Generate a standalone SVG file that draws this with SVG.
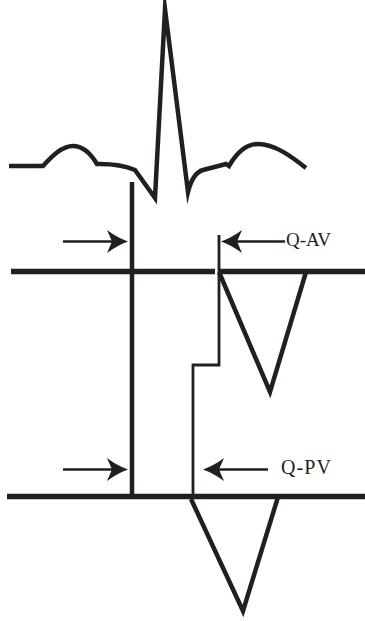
<svg xmlns="http://www.w3.org/2000/svg" width="365" height="621" viewBox="0 0 365 621">
<style>
.thick{fill:none;stroke:#231f20;stroke-width:4.5;stroke-linejoin:miter;stroke-miterlimit:20}
.base{fill:none;stroke:#231f20;stroke-width:5.5}
.thin{fill:none;stroke:#231f20;stroke-width:2.8;stroke-linejoin:miter}
.arrow{fill:none;stroke:#231f20;stroke-width:2.5}
.lbl{font-family:"Liberation Serif","Times New Roman",serif;fill:#231f20}
</style>
<defs>
<marker id="ah" markerUnits="userSpaceOnUse" markerWidth="24" markerHeight="26" viewBox="0 0 24 26" refX="17" refY="12" orient="auto">
<path d="M0,0.5 Q10,8 21,12 Q10,16 0,23.5 L5,12 Z" fill="#231f20"/>
</marker>
</defs>
<rect width="365" height="621" fill="#fff"/>
<g id="ecg">
<path class="thick" d="M9,166 L43,166 C52,156 62,146 73,146 C84,146 91,154 97,164 L100,164 C115,164 128,167 135,170 L155,198 L165,9 L188,192 C191,180 196,172 203,170 L226,164 L229,166 C236,154 246,144 258,144 C275,144 292,157 306,168"/>
</g>
<g id="aortic-baseline">
<line class="base" x1="11" y1="271.5" x2="215" y2="271.5"/>
<line class="base" x1="218" y1="271.5" x2="365" y2="271.5"/>
</g>
<g id="aortic-flow">
<path class="thick" d="M219,272 L270,392 L306,272"/>
</g>
<g id="pulmonary-baseline">
<line class="base" x1="7" y1="496.5" x2="365" y2="496.5"/>
</g>
<g id="pulmonary-flow">
<path class="thick" d="M191,499 L243,611 L278,497"/>
</g>
<g id="q-onset">
<line class="thick" x1="132" y1="182" x2="132" y2="496"/>
</g>
<g id="flow-onset">
<path class="thin" d="M219,235 L219,365 L193,365 L193,496"/>
</g>
<g id="connectors">
<line class="arrow" x1="63" y1="241.5" x2="124" y2="241.5" marker-end="url(#ah)"/>
<line class="arrow" x1="285" y1="241.5" x2="225" y2="241.5" marker-end="url(#ah)"/>
<line class="arrow" x1="63" y1="469.5" x2="124" y2="469.5" marker-end="url(#ah)"/>
<line class="arrow" x1="268" y1="469.5" x2="207" y2="469.5" marker-end="url(#ah)"/>
</g>
<g id="label-qav">
<text class="lbl" x="286" y="246" font-size="19">Q-AV</text>
</g>
<g id="label-qpv">
<text class="lbl" x="281" y="474" font-size="20" textLength="50" lengthAdjust="spacing">Q-PV</text>
</g>
</svg>
